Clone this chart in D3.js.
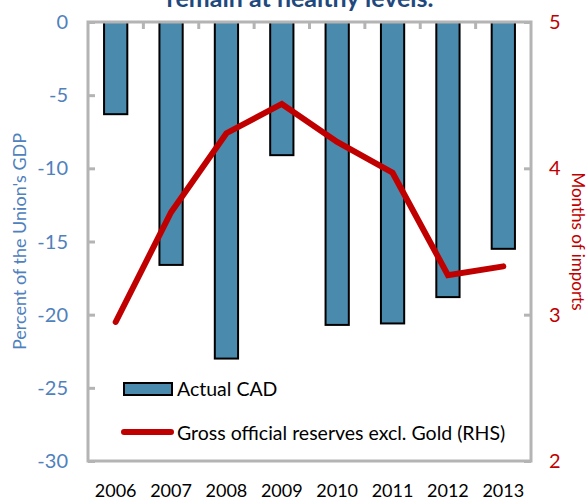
<!DOCTYPE html>
<html>
<head>
<meta charset="utf-8">
<script src="https://cdn.jsdelivr.net/npm/d3@7"></script>
<style>
  body { margin: 0; background: #fff; }
  svg { font-family: Lato, "Open Sans", sans-serif; }
</style>
</head>
<body>
<svg id="chart" width="588" height="500"></svg>
<script>
// data
const years = ['2006', '2007', '2008', '2009', '2010', '2011', '2012', '2013']
const cad = [-6.3, -16.6, -23.0, -9.1, -20.7, -20.6, -18.8, -15.5]
const reserves = [2.95, 3.70, 4.24, 4.44, 4.18, 3.97, 3.27, 3.33]
const leftTicks = [0, -5, -10, -15, -20, -25, -30]
const rightTicks = [5, 4, 3, 2]

const W = 588, H = 500
const m = { top: 22, right: 57, bottom: 39, left: 88 }
const svg = d3.select('#chart')

let x = d3.scaleBand().domain(years).range([m.left, W - m.right]).paddingInner(0.58).paddingOuter(0.29)
let xCat = d3.scaleBand().domain(years).range([m.left, W - m.right]).padding(0)
let yL = d3.scaleLinear().domain([-30, 0]).range([H - m.bottom, m.top])
let yR = d3.scaleLinear().domain([2, 5]).range([H - m.bottom, m.top])

// title, cut off by the top edge like in the source
svg.append('text')
  .attr('x', 300).attr('y', 7)
  .attr('text-anchor', 'middle')
  .attr('font-size', 25).attr('font-weight', 'bold')
  .attr('fill', '#1f497d')
  .text('remain at healthy levels.')

// bars
svg.append('g').selectAll('rect')
  .data(years.map((y, i) => ({ year: y, v: cad[i] })))
  .join('rect')
  .attr('x', d => x(d.year))
  .attr('y', yL(0))
  .attr('width', x.bandwidth())
  .attr('height', d => yL(d.v) - yL(0))
  .attr('fill', '#4a8bad')
  .attr('stroke', '#000')
  .attr('stroke-width', 2)

// frame
const frameColor = '#b4b4b4'
svg.append('rect')
  .attr('x', m.left).attr('y', m.top)
  .attr('width', W - m.left - m.right).attr('height', H - m.top - m.bottom)
  .attr('fill', 'none').attr('stroke', frameColor).attr('stroke-width', 3)

// left axis
let gl = svg.append('g').attr('transform', `translate(${m.left},0)`)
  .call(d3.axisRight(yL).tickValues(leftTicks).tickSize(7).tickFormat(''))
gl.select('.domain').remove()
gl.selectAll('line').attr('stroke', frameColor).attr('stroke-width', 3)
svg.append('g').selectAll('text').data(leftTicks).join('text')
  .attr('x', 68).attr('y', d => yL(d)).attr('dy', '0.35em')
  .attr('text-anchor', 'end').attr('font-size', 20).attr('fill', '#4f81bd')
  .text(d => d)

// right axis
let gr = svg.append('g').attr('transform', `translate(${W - m.right},0)`)
  .call(d3.axisLeft(yR).tickValues(rightTicks).tickSize(7).tickFormat(''))
gr.select('.domain').remove()
gr.selectAll('line').attr('stroke', frameColor).attr('stroke-width', 3)
svg.append('g').selectAll('text').data(rightTicks).join('text')
  .attr('x', 549).attr('y', d => yR(d)).attr('dy', '0.35em')
  .attr('font-size', 20).attr('fill', '#c00000')
  .text(d => d)

// category ticks along the top
svg.append('g').selectAll('line').data(years.slice(1)).join('line')
  .attr('x1', d => xCat(d)).attr('x2', d => xCat(d))
  .attr('y1', m.top).attr('y2', m.top + 7)
  .attr('stroke', frameColor).attr('stroke-width', 3)

// year labels
svg.append('g').selectAll('text').data(years).join('text')
  .attr('x', d => x(d) + x.bandwidth() / 2).attr('y', 491).attr('dy', '0.35em')
  .attr('text-anchor', 'middle').attr('font-size', 18).attr('fill', '#000')
  .text(d => d)

// axis titles
svg.append('text')
  .attr('transform', `translate(20,${(m.top + H - m.bottom) / 2}) rotate(-90)`)
  .attr('text-anchor', 'middle').attr('dy', '0.35em')
  .attr('font-size', 18).attr('fill', '#4f81bd')
  .text("Percent of the Union's GDP")
svg.append('text')
  .attr('transform', `translate(578,${(m.top + H - m.bottom) / 2}) rotate(90)`)
  .attr('text-anchor', 'middle').attr('dy', '0.35em')
  .attr('font-size', 17).attr('fill', '#c00000')
  .text('Months of imports')

// reserves line
let line = d3.line()
  .x((d, i) => x(years[i]) + x.bandwidth() / 2)
  .y(d => yR(d))
svg.append('path')
  .datum(reserves)
  .attr('d', line)
  .attr('fill', 'none')
  .attr('stroke', '#c00000')
  .attr('stroke-width', 6)
  .attr('stroke-linecap', 'round')

// legend
let lg = svg.append('g')
lg.append('rect')
  .attr('x', 124).attr('y', 383).attr('width', 48).attr('height', 12)
  .attr('fill', '#4a8bad').attr('stroke', '#000').attr('stroke-width', 2)
lg.append('text')
  .attr('x', 177).attr('y', 389).attr('dy', '0.35em')
  .attr('font-size', 19.5).text('Actual CAD')
lg.append('line')
  .attr('x1', 124).attr('x2', 171).attr('y1', 432).attr('y2', 432)
  .attr('stroke', '#c00000').attr('stroke-width', 6).attr('stroke-linecap', 'round')
lg.append('text')
  .attr('x', 177).attr('y', 433).attr('dy', '0.35em')
  .attr('font-size', 19.5).text('Gross official reserves excl. Gold (RHS)')
</script>
</body>
</html>
